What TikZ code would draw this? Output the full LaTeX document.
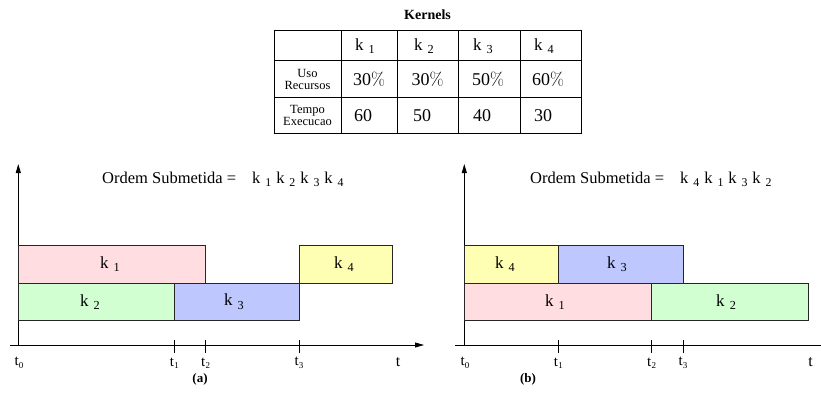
\documentclass[tikz,border=0pt]{standalone}
\usepackage{fontspec}
\usepackage{graphicx}
\setmainfont{Liberation Serif}
\newfontfamily\lmfont{Latin Modern Roman}
\usetikzlibrary{arrows.meta}
\definecolor{kpink}{HTML}{FFDDE0}
\definecolor{kgreen}{HTML}{D2FFD2}
\definecolor{kblue}{HTML}{BEC8FF}
\definecolor{kyellow}{HTML}{FFFFB4}
\newcommand{\kk}[1]{k\kern0.3em\raisebox{-0.4ex}{\scalebox{0.72}{#1}}}
\newcommand{\tsub}[1]{t\kern0.3pt\raisebox{-0.35ex}{\scalebox{0.6}{#1}}}
\newcommand{\pc}{{\lmfont\%}}
\tikzset{
  kbox/.style={draw=black!85, line width=0.8pt},
  klabel/.style={font=\fontsize{17}{17}\selectfont, inner sep=0pt},
  cell/.style={font=\fontsize{17}{17}\selectfont, inner sep=0pt},
  numcell/.style={font=\fontsize{18}{18}\selectfont, inner sep=0pt},
  smallcell/.style={font=\fontsize{12.5}{12}\selectfont, inner sep=0pt, align=center},
  tlabel/.style={font=\fontsize{15}{15}\selectfont, inner sep=0pt},
  axis/.style={line width=0.8pt, -{Triangle[length=9pt,width=5pt]}},
  plainaxis/.style={line width=0.8pt},
  tick/.style={line width=0.8pt},
  ordem/.style={font=\fontsize{16.5}{16.5}\selectfont, inner sep=0pt, anchor=west},
  sublabel/.style={font=\fontsize{13}{13}\selectfont\bfseries, inner sep=0pt}
}
\begin{document}
\begin{tikzpicture}[x=1pt,y=-1pt]
\useasboundingbox (0,0) rectangle (821,392);
% ---------- table ----------
\node[font=\fontsize{14}{14}\selectfont\bfseries, inner sep=0pt] (title) at (427.5,14.5) {Kernels};
\draw[line width=0.8pt] (274,30.5) rectangle (581,133);
\foreach \x in {341,397,458,520} \draw[line width=0.8pt] (\x,30.5) -- (\x,133);
\foreach \y in {60.5,97} \draw[line width=0.8pt] (274,\y) -- (581,\y);
\node[cell] (h1) at (365,46) {\kk{1}};
\node[cell] (h2) at (424,46) {\kk{2}};
\node[cell] (h3) at (483,46) {\kk{3}};
\node[cell] (h4) at (544,46) {\kk{4}};
\node[smallcell] (r1) at (307.5,79) {Uso\\Recursos};
\node[smallcell] (r2) at (307.5,115.5) {Tempo\\Execucao};
\node[numcell] (u1) at (369,79) {30\pc};
\node[numcell] (u2) at (427.5,79) {30\pc};
\node[numcell] (u3) at (488,79) {50\pc};
\node[numcell] (u4) at (548,79) {60\pc};
\node[numcell] (e1) at (363,115.5) {60};
\node[numcell] (e2) at (422,115.5) {50};
\node[numcell] (e3) at (482,115.5) {40};
\node[numcell] (e4) at (543,115.5) {30};
% ---------- chart (a) ----------
\coordinate (ao) at (18.3,345);
\coordinate (atop) at (18.3,164);
\coordinate (aleft) at (10,345);
\coordinate (aright) at (424,345);
\draw[axis] (ao) -- (atop);
\draw[axis] (aleft) -- (aright);
\draw[kbox, fill=kpink]   (18.3,245.7) rectangle (205.7,283.3);
\draw[kbox, fill=kgreen]  (18.3,283.3) rectangle (174.3,320);
\draw[kbox, fill=kblue]   (174.3,283.3) rectangle (299,320);
\draw[kbox, fill=kyellow] (299,245.7) rectangle (392.7,283.3);
\node[klabel] (ak1) at (110,264.5) {\kk{1}};
\node[klabel] (ak2) at (90,301.7) {\kk{2}};
\node[klabel] (ak3) at (234,301.7) {\kk{3}};
\node[klabel] (ak4) at (344,264.5) {\kk{4}};
\foreach \x in {174.3,205.7,299} \draw[tick] (\x,340) -- (\x,353);
\node[tlabel] (at0) at (19,363) {\tsub{0}};
\node[tlabel] (at1) at (174.3,363) {\tsub{1}};
\node[tlabel] (at2) at (205.7,363) {\tsub{2}};
\node[tlabel] (at3) at (299,363) {\tsub{3}};
\node[tlabel,font=\fontsize{16}{16}\selectfont] (at) at (398,362) {t};
\node[sublabel] (acap) at (200,379) {(a)};
\node[ordem] (aord) at (102,178) {Ordem Submetida =};
\node[ordem] (aseq) at (252,179) {\kk{1}\hspace{0.3em}\kk{2}\hspace{0.3em}\kk{3}\hspace{0.3em}\kk{4}};
% ---------- chart (b) ----------
\coordinate (bo) at (464.3,345);
\coordinate (btop) at (464.3,164);
\coordinate (bleft) at (455,345);
\coordinate (bright) at (821,345);
\draw[axis] (bo) -- (btop);
\draw[plainaxis] (bleft) -- (bright);
\draw[kbox, fill=kyellow] (464.3,245.7) rectangle (558.3,283.3);
\draw[kbox, fill=kblue]   (558.3,245.7) rectangle (683,283.3);
\draw[kbox, fill=kpink]   (464.3,283.3) rectangle (651.7,320);
\draw[kbox, fill=kgreen]  (651.7,283.3) rectangle (808.3,320);
\node[klabel] (bk4) at (505,264.5) {\kk{4}};
\node[klabel] (bk3) at (617,264.5) {\kk{3}};
\node[klabel] (bk1) at (555,301.7) {\kk{1}};
\node[klabel] (bk2) at (726,301.7) {\kk{2}};
\foreach \x in {558.3,651.7,683} \draw[tick] (\x,340) -- (\x,353);
\node[tlabel] (bt0) at (465,363) {\tsub{0}};
\node[tlabel] (bt1) at (558.3,363) {\tsub{1}};
\node[tlabel] (bt2) at (651.7,363) {\tsub{2}};
\node[tlabel] (bt3) at (683,363) {\tsub{3}};
\node[tlabel,font=\fontsize{16}{16}\selectfont] (bt) at (810.7,362) {t};
\node[sublabel] (bcap) at (528,379) {(b)};
\node[ordem] (bord) at (530,178) {Ordem Submetida =};
\node[ordem] (bseq) at (680,179) {\kk{4}\hspace{0.3em}\kk{1}\hspace{0.3em}\kk{3}\hspace{0.3em}\kk{2}};
\end{tikzpicture}
\end{document}
